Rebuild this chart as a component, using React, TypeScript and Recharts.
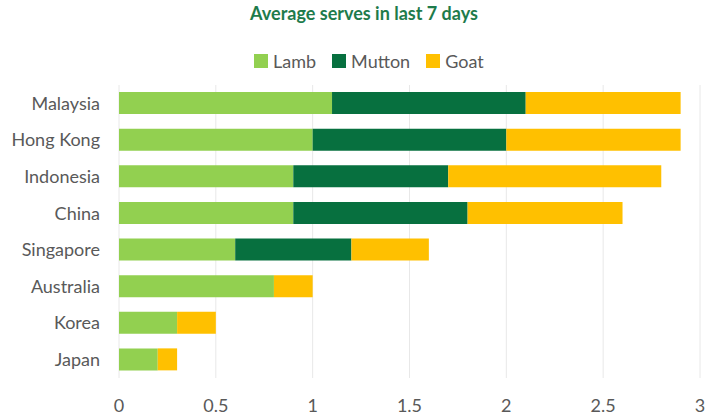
import React from 'react';
import { BarChart, Bar, XAxis, YAxis, CartesianGrid } from 'recharts';

const countries = ['Malaysia', 'Hong Kong', 'Indonesia', 'China', 'Singapore', 'Australia', 'Korea', 'Japan'];
const lamb = [1.1, 1.0, 0.9, 0.9, 0.6, 0.8, 0.3, 0.2];
const mutton = [1.0, 1.0, 0.8, 0.9, 0.6, 0, 0, 0];
const goat = [0.8, 0.9, 1.1, 0.8, 0.4, 0.2, 0.2, 0.1];
const xTicks = [0, 0.5, 1, 1.5, 2, 2.5, 3];

const SERIES = [
  { key: 'Lamb', color: '#92D050' },
  { key: 'Mutton', color: '#07703F' },
  { key: 'Goat', color: '#FFC000' },
];

const FONT = 'Lato, "Open Sans", sans-serif';

const data = countries.map((name, i) => ({
  name,
  Lamb: lamb[i],
  Mutton: mutton[i],
  Goat: goat[i],
}));

export default function App() {
  return (
    <div style={{ position: 'absolute', left: 0, top: 0, width: 707, height: 417, background: '#fff', fontFamily: FONT }}>
      <div
        style={{
          position: 'absolute',
          top: 2,
          left: 0,
          width: 728,
          textAlign: 'center',
          color: '#1E7B4B',
          fontWeight: 700,
          fontSize: 18,
        }}
      >
        Average serves in last 7 days
      </div>
      {/* legend drawn by hand so it keeps series order and doesn't push the plot down */}
      <div
        style={{
          position: 'absolute',
          top: 50,
          left: 254,
          display: 'flex',
          alignItems: 'center',
          gap: 16,
          fontSize: 18,
          color: '#595959',
        }}
      >
        {SERIES.map((s) => (
          <div key={s.key} style={{ display: 'flex', alignItems: 'center', gap: 5 }}>
            <span style={{ width: 14, height: 14, background: s.color, display: 'inline-block' }} />
            <span>{s.key}</span>
          </div>
        ))}
      </div>
      <BarChart
        width={707}
        height={417}
        data={data}
        layout="vertical"
        margin={{ top: 85, right: 7, bottom: 0, left: 0 }}
        barCategoryGap={0}
      >
        <CartesianGrid horizontal={false} stroke="#e8e8e8" />
        <XAxis
          type="number"
          domain={[0, 3]}
          ticks={xTicks}
          axisLine={false}
          tickLine={false}
          tickMargin={15}
          height={39}
          tick={{ fill: '#595959', fontSize: 18, fontFamily: FONT }}
        />
        <YAxis
          type="category"
          dataKey="name"
          width={119}
          axisLine={false}
          tickLine={false}
          tickMargin={13}
          tick={{ fill: '#595959', fontSize: 18, fontFamily: FONT }}
        />
        {SERIES.map((s) => (
          <Bar key={s.key} dataKey={s.key} stackId="a" fill={s.color} barSize={22} isAnimationActive={false} />
        ))}
      </BarChart>
    </div>
  );
}
